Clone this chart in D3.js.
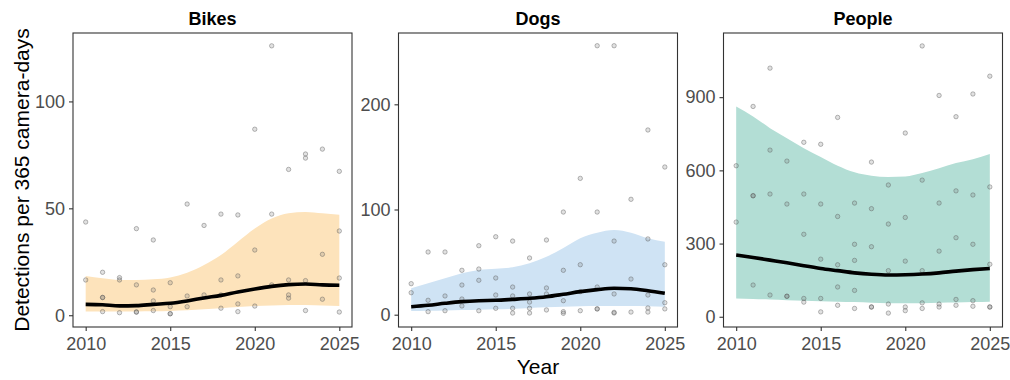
<!DOCTYPE html>
<html>
<head>
<meta charset="utf-8">
<script src="https://cdn.jsdelivr.net/npm/d3@7"></script>
<style>
  html, body { margin: 0; padding: 0; background: #fff; }
  svg { display: block; font-family: "Liberation Sans", Arial, sans-serif; }
</style>
</head>
<body>
<svg id="chart" width="1010" height="380"></svg>
<script>
// Observed detections per 365 camera-days: [year, value]
const bikesPoints = [
  [2010, 43.6], [2010, 16.5],
  [2011, 20.1], [2011, 8.3], [2011, 8.3], [2011, 1.7],
  [2012, 17.6], [2012, 16.5], [2012, 1.2],
  [2013, 40.5], [2013, 14.2], [2013, 1.5], [2013, 1.5],
  [2014, 35.2], [2014, 11.8], [2014, 6.7], [2014, 2.2],
  [2015, 15.2], [2015, 4.0], [2015, 0.7], [2015, 0.7],
  [2016, 52.0], [2016, 9.0], [2016, 4.0],
  [2017, 42.0], [2017, 9.5],
  [2018, 47.3], [2018, 16.5], [2018, 9.5], [2018, 3.3],
  [2019, 46.9], [2019, 18.4], [2019, 5.3], [2019, 1.7],
  [2020, 87.0], [2020, 30.5], [2020, 4.3],
  [2021, 126.0], [2021, 47.3], [2021, 14.2],
  [2022, 68.2], [2022, 16.5], [2022, 9.5], [2022, 8.0],
  [2023, 75.4], [2023, 73.5], [2023, 16.2], [2023, 2.2],
  [2024, 77.7], [2024, 28.5], [2024, 7.5],
  [2025, 67.3], [2025, 39.4], [2025, 17.4], [2025, 1.5]
];
const dogsPoints = [
  [2010, 29.5], [2010, 20.9],
  [2011, 59.6], [2011, 13.7], [2011, 2.9],
  [2012, 59.6], [2012, 17.8], [2012, 3.8],
  [2013, 42.2], [2013, 28.2], [2013, 14.9], [2013, 8.3],
  [2014, 65.6], [2014, 43.4], [2014, 32.7], [2014, 3.8],
  [2015, 74.1], [2015, 34.9], [2015, 18.7], [2015, 6.1],
  [2016, 70.0], [2016, 26.3], [2016, 17.8], [2016, 6.1], [2016, 1.6],
  [2017, 53.9], [2017, 19.7], [2017, 12.0], [2017, 6.1], [2017, 1.6],
  [2018, 71.0], [2018, 25.4], [2018, 19.7], [2018, 4.5],
  [2019, 97.6], [2019, 42.2], [2019, 13.3], [2019, 2.9], [2019, 1.3],
  [2020, 129.6], [2020, 47.5], [2020, 21.9], [2020, 3.8],
  [2021, 255.7], [2021, 97.6], [2021, 26.3], [2021, 5.5], [2021, 5.5],
  [2022, 255.7], [2022, 70.0], [2022, 19.7], [2022, 2.2], [2022, 1.6],
  [2023, 109.7], [2023, 33.9], [2023, 2.5],
  [2024, 175.6], [2024, 72.0], [2024, 18.7], [2024, 6.4], [2024, 2.5],
  [2025, 140.4], [2025, 47.5], [2025, 11.4], [2025, 5.5]
];
const peoplePoints = [
  [2010, 619], [2010, 388],
  [2011, 862], [2011, 496], [2011, 496], [2011, 130],
  [2012, 1019], [2012, 683], [2012, 503], [2012, 89],
  [2013, 638], [2013, 462], [2013, 84], [2013, 84],
  [2014, 715], [2014, 503], [2014, 338], [2014, 75], [2014, 60],
  [2015, 707], [2015, 462], [2015, 236], [2015, 75], [2015, 20],
  [2016, 817], [2016, 411], [2016, 213], [2016, 122], [2016, 47],
  [2017, 466], [2017, 297], [2017, 231], [2017, 108], [2017, 34],
  [2018, 634], [2018, 443], [2018, 287], [2018, 40], [2018, 40],
  [2019, 540], [2019, 380], [2019, 189], [2019, 52], [2019, 15],
  [2020, 753], [2020, 407], [2020, 228], [2020, 40], [2020, 25],
  [2021, 1110], [2021, 560], [2021, 189], [2021, 57], [2021, 34],
  [2022, 907], [2022, 466], [2022, 269], [2022, 52], [2022, 40],
  [2023, 820], [2023, 516], [2023, 324], [2023, 71], [2023, 47],
  [2024, 913], [2024, 499], [2024, 297], [2024, 66], [2024, 43],
  [2025, 986], [2025, 532], [2025, 215], [2025, 40], [2025, 40]
];

// Fitted trend and confidence band, one value per year 2010–2025
const fitYears = d3.range(2010, 2026);
const bikesFit   = [5.1, 4.9, 4.4, 4.5, 5.1, 5.6, 6.7, 8.1, 9.3, 10.9, 12.3, 13.5, 14.3, 14.6, 14.2, 14.0];
const bikesLow   = [1.8, 1.7, 1.7, 1.8, 1.9, 2.0, 2.3, 2.8, 3.3, 3.8, 4.3, 4.6, 4.8, 4.8, 4.6, 4.3];
const bikesHigh  = [18.4, 17.3, 16.5, 16.5, 16.8, 17.7, 19.9, 23.5, 28.2, 34.4, 40.6, 45.3, 47.7, 48.3, 47.7, 47.0];
const dogsFit    = [7.6, 8.9, 10.8, 12.4, 13.3, 13.7, 14.6, 15.6, 17.1, 19.4, 21.9, 23.8, 25.1, 24.7, 22.8, 20.3];
const dogsLow    = [3.5, 3.8, 4.1, 4.4, 4.7, 5.1, 5.6, 6.3, 7.0, 7.6, 8.0, 8.2, 8.3, 8.3, 8.0, 7.6];
const dogsHigh   = [25.1, 29.8, 34.6, 39.4, 42.5, 43.7, 45.0, 48.9, 55.1, 63.4, 72.6, 77.9, 80.5, 77.9, 72.6, 69.4];
const peopleFit  = [253, 243, 232, 221, 209, 198, 189, 180, 174, 171, 172, 175, 180, 187, 193, 198];
const peopleLow  = [75, 73, 71, 68, 66, 64, 62, 60, 57, 55, 55, 55, 57, 58, 60, 62];
const peopleHigh = [862, 821, 773, 732, 691, 655, 619, 592, 578, 573, 575, 589, 609, 630, 646, 667];

const panelTitles = ["Bikes", "Dogs", "People"];
const xTicks = [2010, 2015, 2020, 2025];
const bikesTicks = [0, 50, 100];
const dogsTicks = [0, 100, 200];
const peopleTicks = [0, 300, 600, 900];

const svg = d3.select("#chart");
const plotTop = 33, plotBottom = 327;

const panels = [
  { title: panelTitles[0], left: 73,    right: 352,   yDomain: [-5.5, 132],  ticks: bikesTicks,
    points: bikesPoints, fit: bikesFit, low: bikesLow, high: bikesHigh, fill: "#fde3bb" },
  { title: panelTitles[1], left: 398.5, right: 677.5, yDomain: [-11.7, 267.8], ticks: dogsTicks,
    points: dogsPoints, fit: dogsFit, low: dogsLow, high: dogsHigh, fill: "#cfe3f4" },
  { title: panelTitles[2], left: 723.5, right: 1002.5, yDomain: [-42, 1163], ticks: peopleTicks,
    points: peoplePoints, fit: peopleFit, low: peopleLow, high: peopleHigh, fill: "#b3ded5" }
];

panels.forEach(p => {
  const x = d3.scaleLinear().domain([2009.25, 2025.75]).range([p.left, p.right]);
  const y = d3.scaleLinear().domain(p.yDomain).range([plotBottom, plotTop]);
  const g = svg.append("g");

  // confidence band
  const band = d3.area()
    .x((d, i) => x(fitYears[i]))
    .y0((d, i) => y(p.low[i]))
    .y1((d, i) => y(p.high[i]))
    .curve(d3.curveMonotoneX);
  g.append("path").datum(fitYears).attr("d", band).attr("fill", p.fill);

  // raw observations
  g.append("g").selectAll("circle").data(p.points).join("circle")
    .attr("cx", d => x(d[0]))
    .attr("cy", d => y(d[1]))
    .attr("r", 2.2)
    .attr("fill", "rgba(120,120,120,0.22)")
    .attr("stroke", "rgba(90,90,90,0.42)")
    .attr("stroke-width", 1);

  // fitted trend
  const line = d3.line()
    .x((d, i) => x(fitYears[i]))
    .y((d, i) => y(p.fit[i]))
    .curve(d3.curveMonotoneX);
  g.append("path").datum(fitYears).attr("d", line)
    .attr("fill", "none").attr("stroke", "#000").attr("stroke-width", 3.6);

  // panel border
  g.append("rect")
    .attr("x", p.left).attr("y", plotTop)
    .attr("width", p.right - p.left).attr("height", plotBottom - plotTop)
    .attr("fill", "none").attr("stroke", "#333").attr("stroke-width", 1.1);

  // axes
  const xAxis = d3.axisBottom(x).tickValues(xTicks).tickFormat(d3.format("d"))
    .tickSize(4).tickPadding(3);
  const xg = g.append("g").attr("transform", `translate(0,${plotBottom})`).call(xAxis);
  const yAxis = d3.axisLeft(y).tickValues(p.ticks).tickFormat(d3.format("d"))
    .tickSize(4).tickPadding(4);
  const yg = g.append("g").attr("transform", `translate(${p.left},0)`).call(yAxis);
  [xg, yg].forEach(ax => {
    ax.select(".domain").remove();
    ax.selectAll(".tick line").attr("stroke", "#333").attr("stroke-width", 1.1);
    ax.selectAll(".tick text").attr("fill", "#4d4d4d")
      .style("font-size", "18px").style("font-family", "'Liberation Sans', Arial, sans-serif");
  });
  xg.selectAll(".tick text").attr("dy", "0.9em");

  // panel title
  g.append("text")
    .attr("x", (p.left + p.right) / 2).attr("y", 25)
    .attr("text-anchor", "middle")
    .style("font-size", "18px").style("font-weight", "bold")
    .attr("fill", "#000")
    .text(p.title);
});

// axis titles
svg.append("text")
  .attr("x", (panels[1].left + panels[1].right) / 2).attr("y", 374)
  .attr("text-anchor", "middle")
  .style("font-size", "21px").attr("fill", "#000")
  .text("Year");

svg.append("text")
  .attr("transform", `translate(28.5,${(plotTop + plotBottom) / 2}) rotate(-90)`)
  .attr("text-anchor", "middle")
  .style("font-size", "21px").attr("fill", "#000")
  .text("Detections per 365 camera-days");
</script>
</body>
</html>
